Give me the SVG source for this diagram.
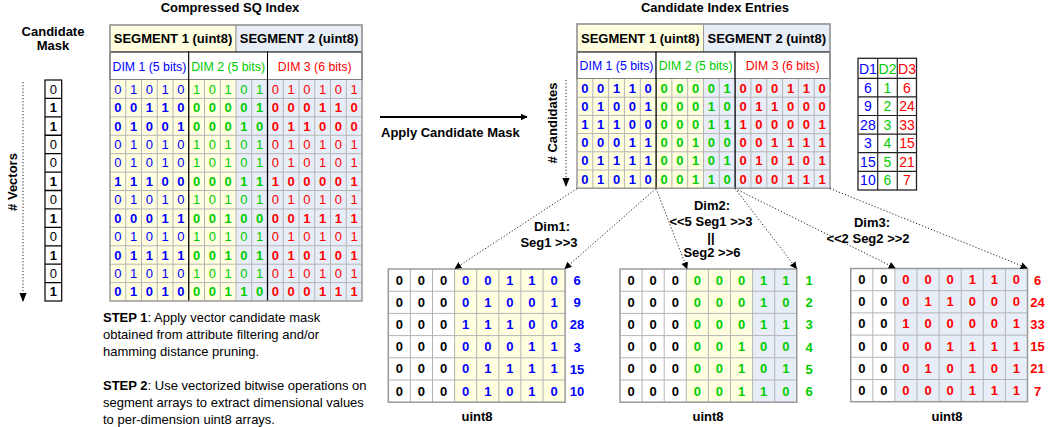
<svg xmlns="http://www.w3.org/2000/svg" width="1048" height="427" viewBox="0 0 1048 427">
<defs>
<style>
text{font-family:"Liberation Sans",Arial,Helvetica,sans-serif;font-size:13px;fill:#000}
.c{text-anchor:middle}
.b{font-weight:bold}
.bl{fill:#0000FF}
.gr{fill:#00CC00}
.rd{fill:#FF0000}
.dm{font-size:12.3px}
.yel{fill:#FFFFE0}
.blu{fill:#E8EEF8}
.gl{fill:none;stroke:#B4B4B4;stroke-width:1}
.dk{fill:none;stroke:#000;stroke-width:1.3}
.ob{fill:none;stroke:#999;stroke-width:1.5}
.dot{fill:none;stroke:#222;stroke-width:1;stroke-dasharray:1.2 2}
.dt{font-size:14px}
</style>
<marker id="ah" viewBox="0 0 10 10" refX="9" refY="5" markerWidth="7" markerHeight="7" orient="auto" markerUnits="userSpaceOnUse"><path d="M0,0 L10,5 L0,10 z" fill="#000"/></marker>
<marker id="ahs" viewBox="0 0 10 10" refX="9" refY="5" markerWidth="9" markerHeight="9" orient="auto" markerUnits="userSpaceOnUse"><path d="M0,1 L10,5 L0,9 z" fill="#000"/></marker>
</defs>
<rect width="1048" height="427" fill="#fff"/>

<g id="mask">
<text class="c b" x="53" y="36">Candidate</text>
<text class="c b" x="53" y="50">Mask</text>
<rect x="45" y="80" width="16.7" height="221" fill="#fff" stroke="#000" stroke-width="1.2"/>
<path class="dk" d="M45,98.42H61.7M45,116.84H61.7M45,135.26H61.7M45,153.68H61.7M45,172.1H61.7M45,190.52H61.7M45,208.94H61.7M45,227.36H61.7M45,245.78H61.7M45,264.2H61.7M45,282.62H61.7"/>
<text class="c" x="53.3" y="93.7">0</text>
<text class="c b" x="53.3" y="112.1">1</text>
<text class="c b" x="53.3" y="130.5">1</text>
<text class="c" x="53.3" y="149">0</text>
<text class="c" x="53.3" y="167.4">0</text>
<text class="c b" x="53.3" y="185.8">1</text>
<text class="c" x="53.3" y="204.2">0</text>
<text class="c b" x="53.3" y="222.6">1</text>
<text class="c" x="53.3" y="241.1">0</text>
<text class="c b" x="53.3" y="259.5">1</text>
<text class="c" x="53.3" y="277.9">0</text>
<text class="c b" x="53.3" y="296.3">1</text>
<text class="c b" transform="translate(17,182) rotate(-90)" x="0" y="0">#  Vectors</text>
</g>

<g id="sq-index">
<text class="c b" x="230" y="12">Compressed SQ Index</text>
<rect class="yel" x="110" y="25" width="126" height="27" stroke="#999"/>
<rect class="blu" x="236" y="25" width="126" height="27" stroke="#999"/>
<text class="c b" x="173" y="43">SEGMENT 1 (uint8)</text>
<text class="c b" x="299" y="43">SEGMENT 2 (uint8)</text>
<rect x="110" y="52" width="78.75" height="28" fill="#fff" stroke="#000"/>
<rect x="188.75" y="52" width="78.75" height="28" fill="#fff" stroke="#000"/>
<rect x="267.5" y="52" width="94.5" height="28" fill="#fff" stroke="#000"/>
<text class="c bl dm" x="149.4" y="70.5">DIM 1 (5 bits)</text>
<text class="c gr dm" x="228.1" y="70.5">DIM 2 (5 bits)</text>
<text class="c rd dm" x="314.75" y="70.5">DIM 3 (6 bits)</text>
<rect class="yel" x="110" y="80" width="126" height="221"/>
<rect class="blu" x="236" y="80" width="126" height="221"/>
<path class="gl" d="M125.75,80V301M141.5,80V301M157.25,80V301M173,80V301M204.5,80V301M220.25,80V301M236,80V301M251.75,80V301M283.25,80V301M299,80V301M314.75,80V301M330.5,80V301M346.25,80V301M110,98.42H362M110,116.84H362M110,135.26H362M110,153.68H362M110,172.1H362M110,190.52H362M110,208.94H362M110,227.36H362M110,245.78H362M110,264.2H362M110,282.62H362"/>
<path class="dk" d="M188.75,80V301M267.5,80V301"/>
<rect class="ob" x="110" y="25" width="252" height="276"/>
<text y="93.7"><tspan class="c bl" x="117.9 133.6 149.4 165.1 180.9">01010</tspan><tspan class="c gr" x="196.6 212.4 228.1 243.9 259.6">10101</tspan><tspan class="c rd" x="275.4 291.1 306.9 322.6 338.4 354.1">010101</tspan></text>
<text class="b" y="112.1"><tspan class="c bl" x="117.9 133.6 149.4 165.1 180.9">00110</tspan><tspan class="c gr" x="196.6 212.4 228.1 243.9 259.6">00001</tspan><tspan class="c rd" x="275.4 291.1 306.9 322.6 338.4 354.1">000110</tspan></text>
<text class="b" y="130.5"><tspan class="c bl" x="117.9 133.6 149.4 165.1 180.9">01001</tspan><tspan class="c gr" x="196.6 212.4 228.1 243.9 259.6">00010</tspan><tspan class="c rd" x="275.4 291.1 306.9 322.6 338.4 354.1">011000</tspan></text>
<text y="149"><tspan class="c bl" x="117.9 133.6 149.4 165.1 180.9">01010</tspan><tspan class="c gr" x="196.6 212.4 228.1 243.9 259.6">10101</tspan><tspan class="c rd" x="275.4 291.1 306.9 322.6 338.4 354.1">010101</tspan></text>
<text y="167.4"><tspan class="c bl" x="117.9 133.6 149.4 165.1 180.9">01010</tspan><tspan class="c gr" x="196.6 212.4 228.1 243.9 259.6">10101</tspan><tspan class="c rd" x="275.4 291.1 306.9 322.6 338.4 354.1">010101</tspan></text>
<text class="b" y="185.8"><tspan class="c bl" x="117.9 133.6 149.4 165.1 180.9">11100</tspan><tspan class="c gr" x="196.6 212.4 228.1 243.9 259.6">00011</tspan><tspan class="c rd" x="275.4 291.1 306.9 322.6 338.4 354.1">100001</tspan></text>
<text y="204.2"><tspan class="c bl" x="117.9 133.6 149.4 165.1 180.9">01010</tspan><tspan class="c gr" x="196.6 212.4 228.1 243.9 259.6">10101</tspan><tspan class="c rd" x="275.4 291.1 306.9 322.6 338.4 354.1">010101</tspan></text>
<text class="b" y="222.6"><tspan class="c bl" x="117.9 133.6 149.4 165.1 180.9">00011</tspan><tspan class="c gr" x="196.6 212.4 228.1 243.9 259.6">00100</tspan><tspan class="c rd" x="275.4 291.1 306.9 322.6 338.4 354.1">001111</tspan></text>
<text y="241.1"><tspan class="c bl" x="117.9 133.6 149.4 165.1 180.9">01010</tspan><tspan class="c gr" x="196.6 212.4 228.1 243.9 259.6">10101</tspan><tspan class="c rd" x="275.4 291.1 306.9 322.6 338.4 354.1">010101</tspan></text>
<text class="b" y="259.5"><tspan class="c bl" x="117.9 133.6 149.4 165.1 180.9">01111</tspan><tspan class="c gr" x="196.6 212.4 228.1 243.9 259.6">00101</tspan><tspan class="c rd" x="275.4 291.1 306.9 322.6 338.4 354.1">010101</tspan></text>
<text y="277.9"><tspan class="c bl" x="117.9 133.6 149.4 165.1 180.9">01010</tspan><tspan class="c gr" x="196.6 212.4 228.1 243.9 259.6">10101</tspan><tspan class="c rd" x="275.4 291.1 306.9 322.6 338.4 354.1">010101</tspan></text>
<text class="b" y="296.3"><tspan class="c bl" x="117.9 133.6 149.4 165.1 180.9">01010</tspan><tspan class="c gr" x="196.6 212.4 228.1 243.9 259.6">00110</tspan><tspan class="c rd" x="275.4 291.1 306.9 322.6 338.4 354.1">000111</tspan></text>
</g>

<g id="steps">
<text x="103" y="322"><tspan class="b">STEP 1</tspan>: Apply vector candidate mask</text>
<text x="103" y="339">obtained from attribute filtering and/or</text>
<text x="103" y="356">hamming distance pruning.</text>
<text x="103" y="390"><tspan class="b">STEP 2</tspan>: Use vectorized bitwise operations on</text>
<text x="103" y="407">segment arrays to extract dimensional values</text>
<text x="103" y="424">to per-dimension uint8 arrays.</text>
</g>

<g id="apply-label">
<text class="b" x="381" y="137">Apply Candidate Mask</text>
</g>

<g id="candidates">
<text class="c b" x="715" y="12">Candidate Index Entries</text>
<rect class="yel" x="577" y="24" width="126.5" height="28" stroke="#999"/>
<rect class="blu" x="703.5" y="24" width="126.5" height="28" stroke="#999"/>
<text class="c b" x="640.25" y="42.5">SEGMENT 1 (uint8)</text>
<text class="c b" x="766.75" y="42.5">SEGMENT 2 (uint8)</text>
<rect x="577" y="52" width="79.1" height="27" fill="#fff" stroke="#000"/>
<rect x="656.1" y="52" width="79" height="27" fill="#fff" stroke="#000"/>
<rect x="735.1" y="52" width="94.9" height="27" fill="#fff" stroke="#000"/>
<text class="c bl dm" x="616.5" y="70">DIM 1 (5 bits)</text>
<text class="c gr dm" x="695.6" y="70">DIM 2 (5 bits)</text>
<text class="c rd dm" x="782.6" y="70">DIM 3 (6 bits)</text>
<rect class="yel" x="577" y="79" width="126.5" height="109.2"/>
<rect class="blu" x="703.5" y="79" width="126.5" height="109.2"/>
<path class="gl" d="M592.8,79V188.2M608.6,79V188.2M624.4,79V188.2M640.3,79V188.2M671.9,79V188.2M687.7,79V188.2M703.5,79V188.2M719.3,79V188.2M750.9,79V188.2M766.8,79V188.2M782.6,79V188.2M798.4,79V188.2M814.2,79V188.2M577,97.2H830M577,115.4H830M577,133.6H830M577,151.8H830M577,170H830"/>
<path class="dk" d="M656.1,79V188.2M735.1,79V188.2"/>
<rect class="ob" x="577" y="24" width="253" height="164.2"/>
<text class="b" y="92.5"><tspan class="c bl" x="584.9 600.7 616.5 632.3 648.2">00110</tspan><tspan class="c gr" x="664 679.8 695.6 711.4 727.2">00001</tspan><tspan class="c rd" x="743 758.8 774.7 790.5 806.3 822.1">000110</tspan></text>
<text class="b" y="110.7"><tspan class="c bl" x="584.9 600.7 616.5 632.3 648.2">01001</tspan><tspan class="c gr" x="664 679.8 695.6 711.4 727.2">00010</tspan><tspan class="c rd" x="743 758.8 774.7 790.5 806.3 822.1">011000</tspan></text>
<text class="b" y="128.9"><tspan class="c bl" x="584.9 600.7 616.5 632.3 648.2">11100</tspan><tspan class="c gr" x="664 679.8 695.6 711.4 727.2">00011</tspan><tspan class="c rd" x="743 758.8 774.7 790.5 806.3 822.1">100001</tspan></text>
<text class="b" y="147.1"><tspan class="c bl" x="584.9 600.7 616.5 632.3 648.2">00011</tspan><tspan class="c gr" x="664 679.8 695.6 711.4 727.2">00100</tspan><tspan class="c rd" x="743 758.8 774.7 790.5 806.3 822.1">001111</tspan></text>
<text class="b" y="165.3"><tspan class="c bl" x="584.9 600.7 616.5 632.3 648.2">01111</tspan><tspan class="c gr" x="664 679.8 695.6 711.4 727.2">00101</tspan><tspan class="c rd" x="743 758.8 774.7 790.5 806.3 822.1">010101</tspan></text>
<text class="b" y="183.5"><tspan class="c bl" x="584.9 600.7 616.5 632.3 648.2">01010</tspan><tspan class="c gr" x="664 679.8 695.6 711.4 727.2">00110</tspan><tspan class="c rd" x="743 758.8 774.7 790.5 806.3 822.1">000111</tspan></text>
<text class="c b" transform="translate(557,123) rotate(-90)" x="0" y="0">#  Candidates</text>
</g>

<g id="dim-table">
<rect x="858" y="58.3" width="58.5" height="131.7" fill="#fff" stroke="#222" stroke-width="1.3"/>
<path fill="none" stroke="#222" stroke-width="1.2" d="M877.7,58.3V190M897.3,58.3V190M858,78.3H916.5M858,96.9H916.5M858,115.5H916.5M858,134.1H916.5M858,152.7H916.5M858,171.3H916.5"/>
<text class="c bl dt" x="867.9" y="73.5">D1</text>
<text class="c gr dt" x="887.5" y="73.5">D2</text>
<text class="c rd dt" x="907" y="73.5">D3</text>
<text class="c bl dt" x="867.9" y="92.5">6</text>
<text class="c bl dt" x="867.9" y="111">9</text>
<text class="c bl dt" x="867.9" y="129.6">28</text>
<text class="c bl dt" x="867.9" y="148.2">3</text>
<text class="c bl dt" x="867.9" y="166.8">15</text>
<text class="c bl dt" x="867.9" y="185.4">10</text>
<text class="c gr dt" x="887.5" y="92.5">1</text>
<text class="c gr dt" x="887.5" y="111">2</text>
<text class="c gr dt" x="887.5" y="129.6">3</text>
<text class="c gr dt" x="887.5" y="148.2">4</text>
<text class="c gr dt" x="887.5" y="166.8">5</text>
<text class="c gr dt" x="887.5" y="185.4">6</text>
<text class="c rd dt" x="907" y="92.5">6</text>
<text class="c rd dt" x="907" y="111">24</text>
<text class="c rd dt" x="907" y="129.6">33</text>
<text class="c rd dt" x="907" y="148.2">15</text>
<text class="c rd dt" x="907" y="166.8">21</text>
<text class="c rd dt" x="907" y="185.4">7</text>
</g>

<g id="dim1-table">
<rect x="388.3" y="269" width="176.8" height="133.2" fill="#fff"/>
<rect class="yel" x="454.6" y="269" width="110.5" height="133.2"/>
<path class="gl" d="M410.4,269V402.2M432.5,269V402.2M454.6,269V402.2M476.7,269V402.2M498.8,269V402.2M520.9,269V402.2M543,269V402.2M388.3,291.2H565.1M388.3,313.4H565.1M388.3,335.6H565.1M388.3,357.8H565.1M388.3,380H565.1"/>
<rect class="ob" x="388.3" y="269" width="176.8" height="133.2"/>
<text class="b" y="284.5"><tspan class="c" x="399.35 421.45 443.55">000</tspan><tspan class="c bl" x="465.65 487.75 509.85 531.95 554.05">00110</tspan></text>
<text class="b" y="306.7"><tspan class="c" x="399.35 421.45 443.55">000</tspan><tspan class="c bl" x="465.65 487.75 509.85 531.95 554.05">01001</tspan></text>
<text class="b" y="328.9"><tspan class="c" x="399.35 421.45 443.55">000</tspan><tspan class="c bl" x="465.65 487.75 509.85 531.95 554.05">11100</tspan></text>
<text class="b" y="351.1"><tspan class="c" x="399.35 421.45 443.55">000</tspan><tspan class="c bl" x="465.65 487.75 509.85 531.95 554.05">00011</tspan></text>
<text class="b" y="373.3"><tspan class="c" x="399.35 421.45 443.55">000</tspan><tspan class="c bl" x="465.65 487.75 509.85 531.95 554.05">01111</tspan></text>
<text class="b" y="395.5"><tspan class="c" x="399.35 421.45 443.55">000</tspan><tspan class="c bl" x="465.65 487.75 509.85 531.95 554.05">01010</tspan></text>
<text class="c b bl" x="577" y="285">6</text>
<text class="c b bl" x="577" y="307.2">9</text>
<text class="c b bl" x="577" y="329.4">28</text>
<text class="c b bl" x="577" y="351.6">3</text>
<text class="c b bl" x="577" y="373.8">15</text>
<text class="c b bl" x="577" y="396">10</text>
<text class="c b" x="477" y="421">uint8</text>
<text class="c b" x="552" y="231">Dim1:</text>
<text class="c b" x="549" y="247">Seg1 &gt;&gt;3</text>
</g>

<g id="dim2-table">
<rect x="620" y="269" width="176.8" height="133.2" fill="#fff"/>
<rect class="yel" x="686.3" y="269" width="66.3" height="133.2"/>
<rect class="blu" x="752.6" y="269" width="44.2" height="133.2"/>
<path class="gl" d="M642.1,269V402.2M664.2,269V402.2M686.3,269V402.2M708.4,269V402.2M730.5,269V402.2M752.6,269V402.2M774.7,269V402.2M620,291.2H796.8M620,313.4H796.8M620,335.6H796.8M620,357.8H796.8M620,380H796.8"/>
<rect class="ob" x="620" y="269" width="176.8" height="133.2"/>
<text class="b" y="284.5"><tspan class="c" x="631.05 653.15 675.25">000</tspan><tspan class="c gr" x="697.35 719.45 741.55 763.65 785.75">00011</tspan></text>
<text class="b" y="306.7"><tspan class="c" x="631.05 653.15 675.25">000</tspan><tspan class="c gr" x="697.35 719.45 741.55 763.65 785.75">00010</tspan></text>
<text class="b" y="328.9"><tspan class="c" x="631.05 653.15 675.25">000</tspan><tspan class="c gr" x="697.35 719.45 741.55 763.65 785.75">00011</tspan></text>
<text class="b" y="351.1"><tspan class="c" x="631.05 653.15 675.25">000</tspan><tspan class="c gr" x="697.35 719.45 741.55 763.65 785.75">00100</tspan></text>
<text class="b" y="373.3"><tspan class="c" x="631.05 653.15 675.25">000</tspan><tspan class="c gr" x="697.35 719.45 741.55 763.65 785.75">00101</tspan></text>
<text class="b" y="395.5"><tspan class="c" x="631.05 653.15 675.25">000</tspan><tspan class="c gr" x="697.35 719.45 741.55 763.65 785.75">00110</tspan></text>
<text class="c b gr" x="809" y="285">1</text>
<text class="c b gr" x="809" y="307.2">2</text>
<text class="c b gr" x="809" y="329.4">3</text>
<text class="c b gr" x="809" y="351.6">4</text>
<text class="c b gr" x="809" y="373.8">5</text>
<text class="c b gr" x="809" y="396">6</text>
<text class="c b" x="708" y="421">uint8</text>
<text class="c b" x="712" y="210">Dim2:</text>
<text class="c b" x="711" y="226">&lt;&lt;5 Seg1 &gt;&gt;3</text>
<text class="c b" x="711" y="242">||</text>
<text class="c b" x="712" y="257">Seg2 &gt;&gt;6</text>
</g>

<g id="dim3-table">
<rect x="850.7" y="268.5" width="176.8" height="133.2" fill="#fff"/>
<rect class="blu" x="894.9" y="268.5" width="132.6" height="133.2"/>
<path class="gl" d="M872.8,268.5V401.7M894.9,268.5V401.7M917,268.5V401.7M939.1,268.5V401.7M961.2,268.5V401.7M983.3,268.5V401.7M1005.4,268.5V401.7M850.7,290.7H1027.5M850.7,312.9H1027.5M850.7,335.1H1027.5M850.7,357.3H1027.5M850.7,379.5H1027.5"/>
<rect class="ob" x="850.7" y="268.5" width="176.8" height="133.2"/>
<text class="b" y="284"><tspan class="c" x="861.75 883.85">00</tspan><tspan class="c rd" x="905.95 928.05 950.15 972.25 994.35 1016.45">000110</tspan></text>
<text class="b" y="306.2"><tspan class="c" x="861.75 883.85">00</tspan><tspan class="c rd" x="905.95 928.05 950.15 972.25 994.35 1016.45">011000</tspan></text>
<text class="b" y="328.4"><tspan class="c" x="861.75 883.85">00</tspan><tspan class="c rd" x="905.95 928.05 950.15 972.25 994.35 1016.45">100001</tspan></text>
<text class="b" y="350.6"><tspan class="c" x="861.75 883.85">00</tspan><tspan class="c rd" x="905.95 928.05 950.15 972.25 994.35 1016.45">001111</tspan></text>
<text class="b" y="372.8"><tspan class="c" x="861.75 883.85">00</tspan><tspan class="c rd" x="905.95 928.05 950.15 972.25 994.35 1016.45">010101</tspan></text>
<text class="b" y="395"><tspan class="c" x="861.75 883.85">00</tspan><tspan class="c rd" x="905.95 928.05 950.15 972.25 994.35 1016.45">000111</tspan></text>
<text class="c b rd" x="1037.5" y="284.5">6</text>
<text class="c b rd" x="1037.5" y="306.7">24</text>
<text class="c b rd" x="1037.5" y="328.9">33</text>
<text class="c b rd" x="1037.5" y="351.1">15</text>
<text class="c b rd" x="1037.5" y="373.3">21</text>
<text class="c b rd" x="1037.5" y="395.5">7</text>
<text class="c b" x="947" y="421">uint8</text>
<text class="c b" x="872" y="227">Dim3:</text>
<text class="c b" x="868" y="243">&lt;&lt;2 Seg2 &gt;&gt;2</text>
</g>

<g id="connectors">
<line x1="23" y1="82" x2="23" y2="301" class="dot" marker-end="url(#ahs)"/>
<line x1="566" y1="80" x2="566" y2="186" class="dot" marker-end="url(#ahs)"/>
<line x1="380" y1="117" x2="527" y2="117" stroke="#000" stroke-width="2" marker-end="url(#ah)"/>
<line x1="577" y1="188.5" x2="455" y2="268.5" class="dot" marker-end="url(#ah)"/>
<line x1="656" y1="188.5" x2="565" y2="268.5" class="dot" marker-end="url(#ah)"/>
<line x1="656" y1="188.5" x2="687" y2="268.5" class="dot" marker-end="url(#ah)"/>
<line x1="735" y1="188.5" x2="796.5" y2="268.5" class="dot" marker-end="url(#ah)"/>
<line x1="735" y1="188.5" x2="895" y2="268" class="dot" marker-end="url(#ah)"/>
<line x1="830" y1="188.5" x2="1027" y2="268" class="dot" marker-end="url(#ah)"/>
</g>
</svg>
